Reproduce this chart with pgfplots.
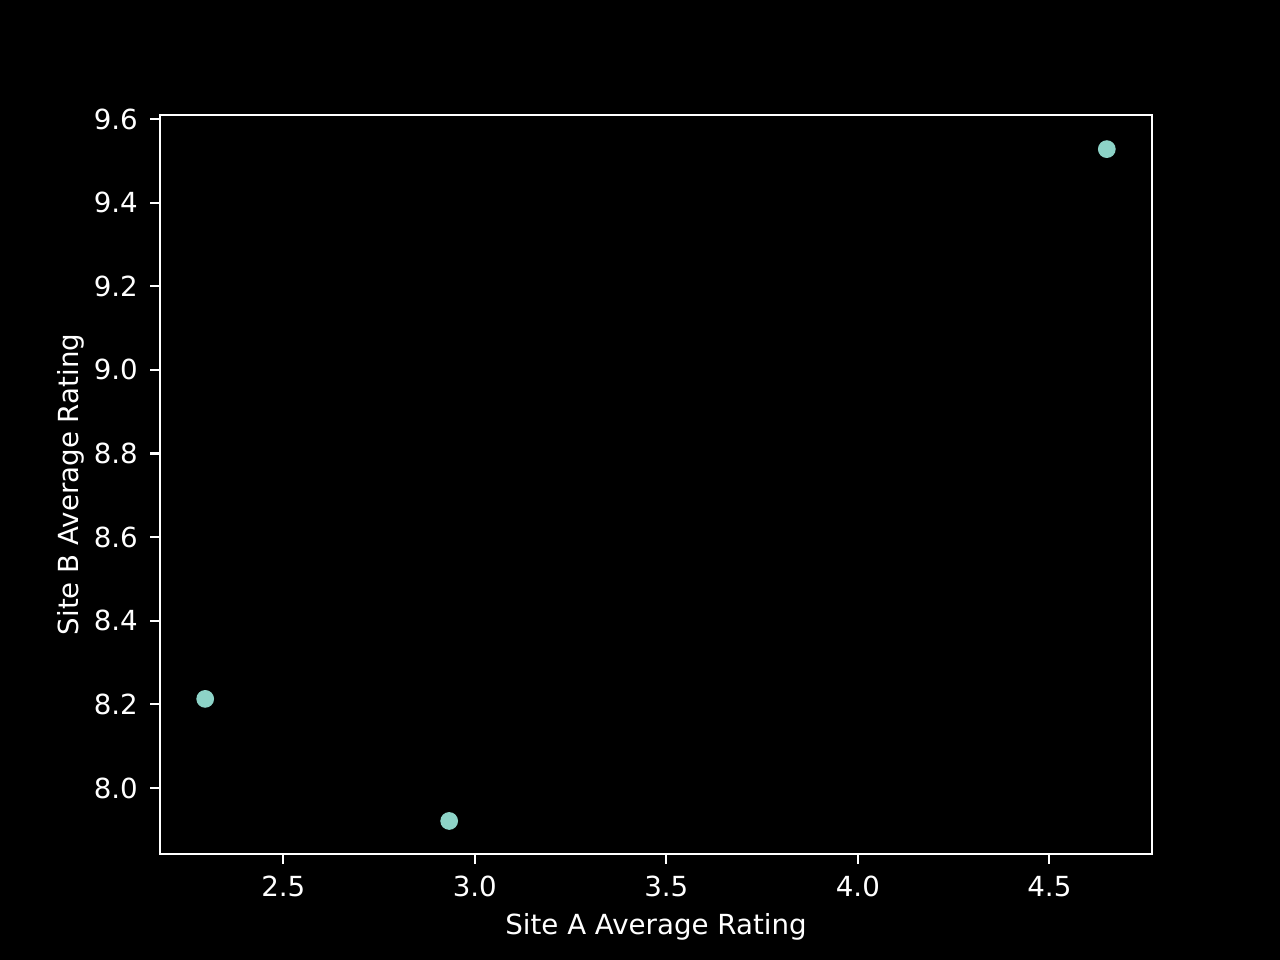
\documentclass[border=0pt]{standalone}
\usepackage{pgfplots}
\pgfplotsset{compat=1.18}
\usepackage{fontspec}
\setmainfont{DejaVu Sans}
\definecolor{pt}{HTML}{8DD3C7}
\begin{document}
\begin{tikzpicture}
\path[fill=black] (0,0) rectangle (6.4in,4.8in);
\begin{axis}[
  at={(0.8in,0.53in)}, anchor=south west,
  scale only axis, width=4.96in, height=3.695in,
  xmin=2.178, xmax=4.768, ymin=7.842, ymax=9.6096,
  axis line style={white, line width=0.8pt},
  every tick/.style={white, line width=0.8pt},
  tick align=outside, major tick length=3.5pt,
  xtick={2.5,3.0,3.5,4.0,4.5},
  ytick={8.0,8.2,8.4,8.6,8.8,9.0,9.2,9.4,9.6},
  /pgf/number format/assume math mode=true,
  /pgf/number format/fixed, /pgf/number format/zerofill, /pgf/number format/precision=1,
  tick label style={white, font=\fontsize{10}{12}\selectfont},
  label style={white, font=\fontsize{10}{12}\selectfont},
  xlabel={Site A Average Rating},
  ylabel={Site B Average Rating},
  xticklabel style={yshift=-1pt},
  yticklabel style={xshift=-1pt},
  xlabel style={yshift=1pt},
  ylabel style={yshift=-3.4pt},
  xtick pos=bottom, ytick pos=left,
]
\addplot[only marks, mark=*, mark size=3pt, mark options={fill=pt, draw=pt}] coordinates {
(2.296,8.213) (2.933,7.921) (4.650,9.528)
};
\end{axis}
\end{tikzpicture}
\end{document}
